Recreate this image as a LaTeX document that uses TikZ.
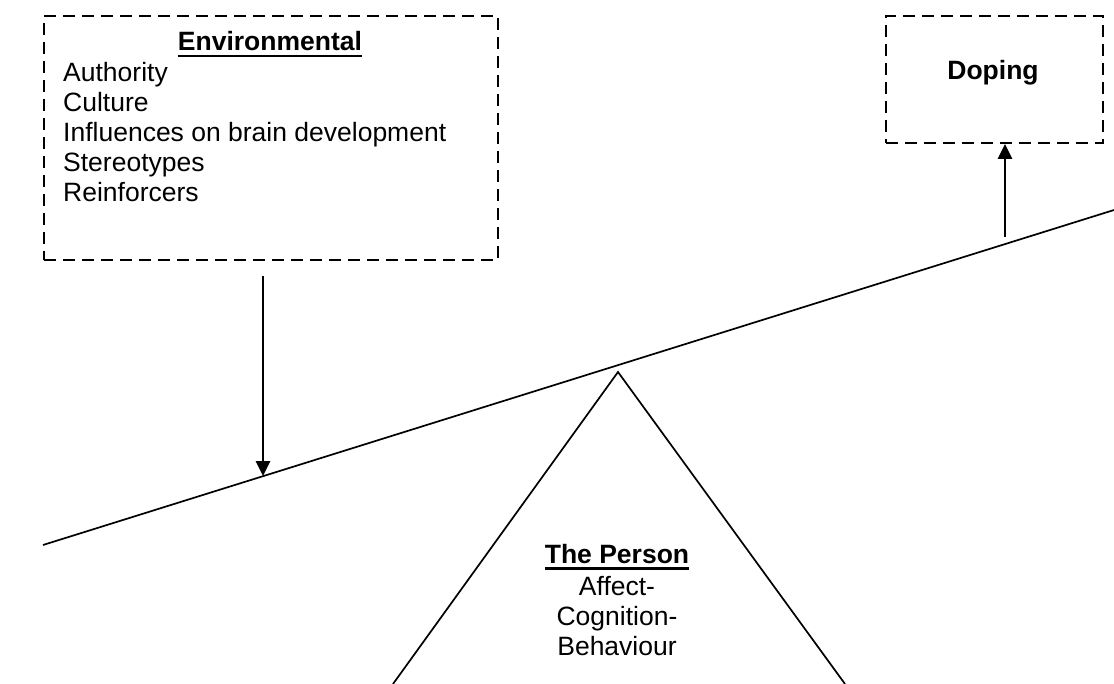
\documentclass[tikz,border=0pt]{standalone}
\usepackage{fontspec}
\setmainfont{Liberation Sans}
\usetikzlibrary{arrows.meta}

\newcommand{\headtext}[1]{\setbox0\hbox{\textbf{#1}}\rlap{\rule[-6.5pt]{\wd0}{2.4pt}}\box0}

\begin{document}
\begin{tikzpicture}[x=1pt,y=-1pt,
    every node/.style={font=\fontsize{26.5}{30}\selectfont,inner sep=0pt},
    dbox/.style={draw,dash pattern=on 12pt off 7pt,line width=1.9pt,anchor=north west},
    item/.style={anchor=base west},
    mid/.style={anchor=base},
    arr/.style={-{Triangle[length=15pt,width=14pt]},line width=2.8pt}]
  \useasboundingbox (0,0) rectangle (1114,684);
  \draw
    (43,15) node[dbox,minimum width=454pt,minimum height=244pt] (env){}
    (885,15) node[dbox,minimum width=217pt,minimum height=127pt] (dope){};
  \draw
    (270,51) node[mid] (envhead){\headtext{Environmental}}
    (63,82) node[item] (authority){Authority}
    (63,112) node[item] (culture){Culture}
    (63,142) node[item] (brain){Influences on brain development}
    (63,172) node[item] (stereo){Stereotypes}
    (63,202) node[item] (reinf){Reinforcers}
    (993,80) node[mid] (dopehead){\textbf{Doping}};
  % seesaw
  \coordinate (beamL) at (43,545);
  \coordinate (beamR) at (1114,210);
  \coordinate (apex) at (618,372);
  \coordinate (footL) at (393,684);
  \coordinate (footR) at (845,684);
  \draw[line width=1.7pt] (beamL) -- (beamR);
  \draw[line width=1.7pt] (footL) -- (apex) -- (footR);
  \draw
    (617,563) node[mid] (personhead){\headtext{The Person}}
    (617,595) node[mid] (affect){Affect-}
    (617,625) node[mid] (cognition){Cognition-}
    (617,655) node[mid] (behaviour){Behaviour};
  % forces
  \coordinate (hitL) at (263,476);
  \coordinate (hitR) at (1005,237);
  \draw[arr] (env.south -| hitL) ++(0,15) -- (hitL);
  \draw[arr] (hitR) -- (dope.south -| hitR);
\end{tikzpicture}
\end{document}
